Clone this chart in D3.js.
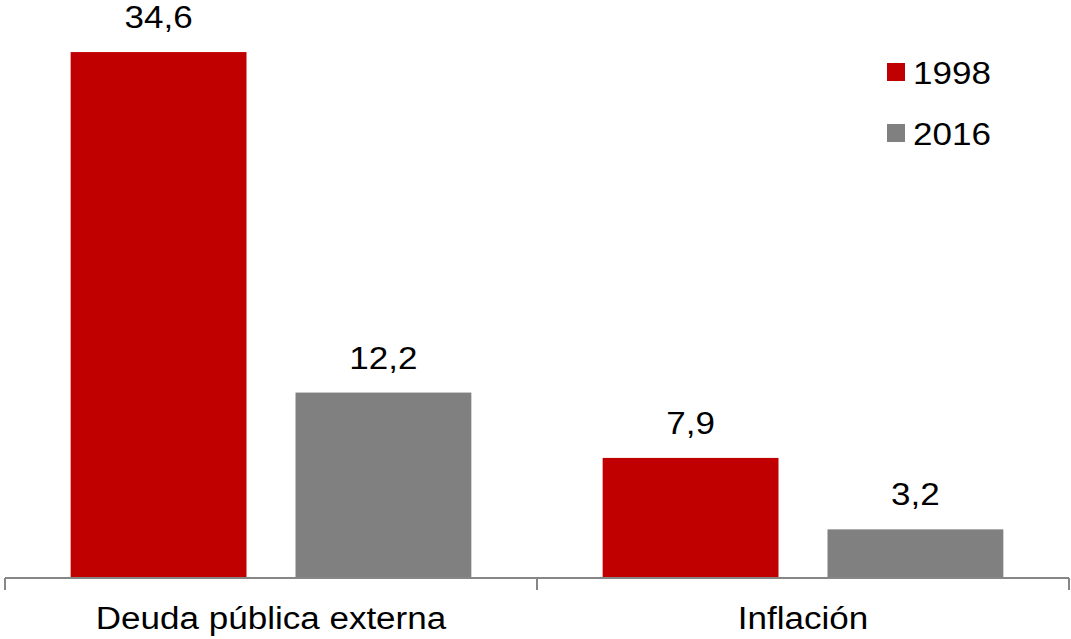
<!DOCTYPE html>
<html><head><meta charset="utf-8">
<script src="https://cdn.jsdelivr.net/npm/d3@7"></script>
<style>html,body{margin:0;padding:0;background:#fff;}</style>
</head><body>
<script>
const categories = ["Deuda pública externa", "Inflación"];
const series = ["1998", "2016"];
const values1998 = [34.6, 7.9];
const values2016 = [12.2, 3.2];
const colors = ["#C00000", "#808080"];

const W = 1071, H = 639;
const FS = 31, SX = 1.13;
const svg = d3.select("body").append("svg").attr("width", W).attr("height", H);

const x0 = d3.scaleBand().domain(categories).range([5, 1069]).padding(0);
const x1 = d3.scaleBand().domain(series).range([0, x0.bandwidth()]).paddingInner(0.218).paddingOuter(0.292);
const y = d3.scaleLinear().domain([0, 35]).range([578, 46]);

const data = [];
categories.forEach((c, i) => {
  data.push({cat: c, s: "1998", v: values1998[i]});
  data.push({cat: c, s: "2016", v: values2016[i]});
});
const color = d3.scaleOrdinal().domain(series).range(colors);
const fmt = v => d3.format(".1f")(v).replace(".", ",");

function stext(g, x, y, txt, anchor) {
  return g.append("text")
    .attr("transform", `translate(${x},${y}) scale(${SX},1)`)
    .attr("text-anchor", anchor)
    .attr("font-family", "Liberation Sans, Arial, sans-serif")
    .attr("font-size", FS)
    .attr("fill", "#000")
    .text(txt);
}

svg.selectAll("rect.bar").data(data).enter().append("rect")
  .attr("class", "bar")
  .attr("x", d => x0(d.cat) + x1(d.s))
  .attr("y", d => y(d.v))
  .attr("width", x1.bandwidth())
  .attr("height", d => y(0) - y(d.v))
  .attr("fill", d => color(d.s));

data.forEach(d => {
  stext(svg, x0(d.cat) + x1(d.s) + x1.bandwidth() / 2, y(d.v) - 24, fmt(d.v), "middle");
});

// axis
const axis = d3.axisBottom(x0).tickSize(0).tickFormat("");
const ag = svg.append("g").attr("transform", `translate(0,${y(0)})`).call(axis);
ag.select(".domain").attr("stroke", "#868686").attr("stroke-width", 2).attr("d", `M5,0H1069`);
const bounds = [5, ...categories.map(c => x0(c) + x0.bandwidth())];
ag.selectAll("line.sep").data(bounds).enter().append("line")
  .attr("class", "sep")
  .attr("x1", d => d).attr("x2", d => d)
  .attr("y1", 0).attr("y2", 12)
  .attr("stroke", "#868686").attr("stroke-width", 2);

categories.forEach(c => {
  stext(svg, x0(c) + x0.bandwidth() / 2, 629, c, "middle");
});

// legend
series.forEach((s, i) => {
  const ly = 63 + i * 61;
  svg.append("rect").attr("x", 887).attr("y", ly).attr("width", 18).attr("height", 18).attr("fill", colors[i]);
  stext(svg, 913, ly + 21, s, "start");
});
</script>
</body></html>
